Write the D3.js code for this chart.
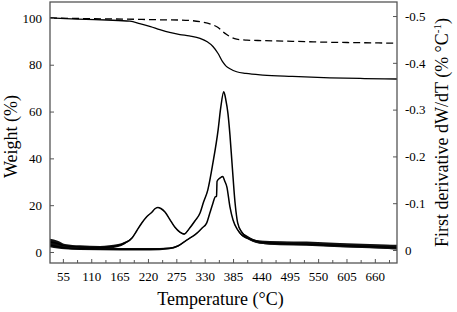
<!DOCTYPE html>
<html><head><meta charset="utf-8">
<script src="https://cdn.jsdelivr.net/npm/d3@7"></script>
<style>
body{margin:0;background:#fff;}
svg{display:block;}
svg text{font-family:'Liberation Serif','Times New Roman',Times,serif !important;}
</style></head>
<body><svg id="c" width="457" height="312"></svg>
<script>
// ---- data ----
const xMajorTicks = [55,110,165,220,275,330,385,440,495,550,605,660];
const xMinorTicks = [82.5,137.5,192.5,247.5,302.5,357.5,412.5,467.5,522.5,577.5,632.5,687.5];
const leftTicks = [0,20,40,60,80,100];
const rightTicks = [0,-0.1,-0.2,-0.3,-0.4,-0.5];
const rightTickLabels = ["0","-0.1","-0.2","-0.3","-0.4","-0.5"];

// TG, solid (weight %)
const tgSolidT = [30,60,100,140,185,204,225,243,262,282,300,321,335,346,356,365,372,379,392,410,443,500,573,640,703];
const tgSolidW = [100,99.7,99.4,99.1,98.6,97.6,96.3,95.0,93.8,92.9,92.3,91.3,89.8,87.8,84.8,81.2,79.3,78.3,77.0,76.3,75.6,75.0,74.4,74.1,73.9];
// TG, dashed (weight %)
const tgDashT = [30,100,200,243,282,321,346,356,365,372,379,392,412,443,500,573,640,703];
const tgDashW = [100,99.7,99.4,99.2,99.1,98.4,97.0,95.9,94.2,93.0,92.0,90.9,90.5,90.3,90.0,89.6,89.4,89.2];

// DTG, large curve (% per °C) and its noise half-width
const dtgAT = [30,45,59,88,127,162,175,189,198,208,218,228,233,239,245,253,262,272,282,290,301,311,321,328,336,346,356,361,367,371,375,379,383,389,394,402,412,423,437,476,528,592,650,695,703];
const dtgAV = [-0.017,-0.014,-0.0085,-0.0064,-0.0053,-0.0096,-0.015,-0.0256,-0.0406,-0.0577,-0.0716,-0.0812,-0.0876,-0.0908,-0.0887,-0.0812,-0.066,-0.049,-0.038,-0.034,-0.047,-0.062,-0.079,-0.103,-0.128,-0.186,-0.256,-0.303,-0.338,-0.321,-0.293,-0.246,-0.186,-0.100,-0.058,-0.038,-0.028,-0.021,-0.017,-0.015,-0.0139,-0.0107,-0.0085,-0.0064,-0.0064];
const dtgAN = [0.007,0.006,0.0045,0.0035,0.0035,0.003,0.0025,0.0018,0.0012,0.0008,0.0006,0.0006,0.0006,0.0006,0.0006,0.0006,0.0008,0.001,0.0012,0.0012,0.001,0.0008,0.0006,0.0005,0.0005,0.0005,0.0005,0.0005,0.0005,0.0005,0.0005,0.0005,0.0005,0.0008,0.0012,0.002,0.0028,0.0032,0.0035,0.0038,0.004,0.0042,0.0045,0.0048,0.005];

// DTG, small curve (% per °C) and its noise half-width
const dtgBT = [30,45,59,88,166,224,262,278,295,305,315,325,334,340,346,350,353,354,360,365,369,373,379,385,394,402,412,437,476,528,592,650,703];
const dtgBV = [-0.0105,-0.0068,-0.0045,-0.0025,-0.0015,-0.0015,-0.0035,-0.0085,-0.021,-0.028,-0.036,-0.047,-0.058,-0.079,-0.100,-0.113,-0.115,-0.147,-0.154,-0.157,-0.147,-0.135,-0.092,-0.064,-0.043,-0.032,-0.026,-0.017,-0.0139,-0.0125,-0.0096,-0.0075,-0.0055];
const dtgBN = [0.0045,0.0035,0.003,0.0025,0.0025,0.0025,0.002,0.0015,0.001,0.0008,0.0006,0.0005,0.0005,0.0005,0.0005,0.0005,0.0005,0.0005,0.0005,0.0005,0.0005,0.0005,0.0005,0.0008,0.0012,0.002,0.0025,0.003,0.0035,0.0035,0.004,0.004,0.0045];

// ---- drawing ----
const FONT = "'Liberation Serif', 'Times New Roman', Times, serif";
const svg = d3.select("#c").attr("font-family", FONT);
const L = 50, R = 397, T = 2, B = 263;
const x = d3.scaleLinear().domain([30, 703]).range([L, R]);
const yL = d3.scaleLinear().domain([-4.7, 106.8]).range([B, T]);
const yR = d3.scaleLinear().domain([0.0278, -0.530]).range([B, T]);

const zip = (a, b, c) => a.map((t, i) => c ? [t, b[i], c[i]] : [t, b[i]]);

svg.append("clipPath").attr("id","clip").append("rect")
  .attr("x",L).attr("y",T).attr("width",R-L).attr("height",B-T);
const g = svg.append("g").attr("clip-path","url(#clip)");

const band = d3.area().x(d => x(d[0])).y0(d => yR(d[1]-d[2])).y1(d => yR(d[1]+d[2])).curve(d3.curveMonotoneX);
const dline = d3.line().x(d => x(d[0])).y(d => yR(d[1])).curve(d3.curveMonotoneX);
const wline = d3.line().x(d => x(d[0])).y(d => yL(d[1])).curve(d3.curveMonotoneX);

[[dtgAT,dtgAV,dtgAN],[dtgBT,dtgBV,dtgBN]].forEach(([t,v,n]) => {
  const data = zip(t,v,n);
  g.append("path").attr("d", band(data)).attr("fill","#111");
  g.append("path").attr("d", dline(data)).attr("fill","none").attr("stroke","#000").attr("stroke-width",1.5);
});

g.append("path").attr("d", wline(zip(tgSolidT,tgSolidW))).attr("fill","none").attr("stroke","#000").attr("stroke-width",1.3);
g.append("path").attr("d", wline(zip(tgDashT,tgDashW))).attr("fill","none").attr("stroke","#000").attr("stroke-width",1.3).attr("stroke-dasharray","7,4");

// frame
svg.append("rect").attr("x",L).attr("y",T).attr("width",R-L).attr("height",B-T)
  .attr("fill","none").attr("stroke","#555").attr("stroke-width",1.3);

function style(s, size){
  s.attr("font-family", FONT);
  s.select(".domain").remove();
  s.selectAll(".tick line").attr("stroke","#555");
  s.selectAll(".tick text").attr("font-size",size).attr("font-family",FONT).attr("fill","#000");
}

// x axis
const gx = svg.append("g").attr("transform",`translate(0,${B})`)
  .call(d3.axisBottom(x).tickValues(xMajorTicks).tickSizeInner(-4).tickSizeOuter(0));
style(gx, 13);
gx.selectAll(".tick text").attr("y",9);
const gxm = svg.append("g").attr("transform",`translate(0,${B})`)
  .call(d3.axisBottom(x).tickValues(xMinorTicks).tickSizeInner(-3).tickSizeOuter(0).tickFormat(""));
style(gxm, 13);

// left axis
const gl = svg.append("g").attr("transform",`translate(${L},0)`)
  .call(d3.axisLeft(yL).tickValues(leftTicks).tickSizeInner(-4).tickSizeOuter(0).tickPadding(8));
style(gl, 13);

// right axis
const gr = svg.append("g").attr("transform",`translate(${R},0)`)
  .call(d3.axisRight(yR).tickValues(rightTicks).tickSizeInner(-4).tickSizeOuter(0).tickPadding(8)
    .tickFormat((d,i) => rightTickLabels[i]));
style(gr, 13);

// titles
svg.append("text").attr("x", (L+R)/2 - 3).attr("y", 305).attr("text-anchor","middle")
  .attr("font-size",18).text("Temperature (°C)");
svg.append("text").attr("transform",`translate(17,${(T+B)/2+4}) rotate(-90)`).attr("text-anchor","middle")
  .attr("font-size",18).text("Weight (%)");
const rt = svg.append("text").attr("transform",`translate(448,${(T+B)/2}) rotate(-90)`).attr("text-anchor","middle")
  .attr("font-size",18);
rt.append("tspan").text("First derivative dW/dT (% °C");
rt.append("tspan").attr("font-size",11).attr("dy",-7).text("-1");
rt.append("tspan").attr("dy",7).text(")");
</script></body></html>
